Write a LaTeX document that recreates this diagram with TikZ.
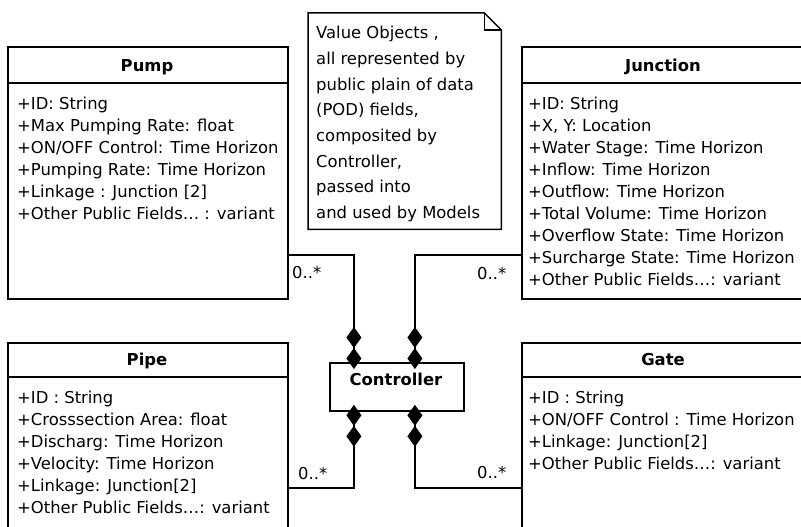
\documentclass[tikz,border=0pt]{standalone}
\usepackage{fontspec}
\setmainfont{DejaVu Sans}
\usetikzlibrary{arrows.meta,calc}
\begin{document}
\begin{tikzpicture}[x=1pt,y=-1pt,
  box/.style={draw, line width=1.8pt, inner sep=0pt, anchor=north west},
  sepline/.style={line width=1.8pt},
  ttl/.style={font=\fontsize{16.4}{20}\selectfont\bfseries, inner sep=0pt, anchor=base},
  attrs/.style={font=\fontsize{16.4}{22}\selectfont, align=left, inner sep=0pt, anchor=north west},
  notetext/.style={font=\fontsize{16.4}{25.7}\selectfont, align=left, inner sep=0pt, anchor=north west},
  mult/.style={font=\fontsize{16.4}{20}\selectfont, inner sep=0pt, anchor=base west},
  notebox/.style={line width=1.5pt},
  comp/.style={line width=1.8pt, {Diamond[length=21pt,width=15pt,sep=-7pt]Diamond[length=21pt,width=15pt]}-},
]
\useasboundingbox (0,0) rectangle (801,527);
\clip (0,0) rectangle (801,527);

% Pump
\node[box, minimum width=280pt, minimum height=252pt] (pump) at (7,46) {};
\draw[sepline] ([yshift=-37pt]pump.north west) -- ([yshift=-37pt]pump.north east);
\node[ttl] (pumpt) at (147,71.5) {Pump};
\node[attrs] (pumpa) at (17,97) {+ID: String\\+Max Pumping Rate: float\\+ON/OFF Control: Time Horizon\\+Pumping Rate: Time Horizon\\+Linkage : Junction [2]\\+Other Public Fields\dots\ : variant};

% Junction
\node[box, minimum width=284pt, minimum height=252pt] (junc) at (521,46) {};
\draw[sepline] ([yshift=-37pt]junc.north west) -- ([yshift=-37pt]junc.north east);
\node[ttl] (junct) at (663,71.5) {Junction};
\node[attrs] (junca) at (528,97) {+ID: String\\+X, Y: Location\\+Water Stage: Time Horizon\\+Inflow: Time Horizon\\+Outflow: Time Horizon\\+Total Volume: Time Horizon\\+Overflow State: Time Horizon\\+Surcharge State: Time Horizon\\+Other Public Fields\dots: variant};

% Pipe
\node[box, minimum width=280pt, minimum height=203pt] (pipe) at (7,342) {};
\draw[sepline] ([yshift=-35pt]pipe.north west) -- ([yshift=-35pt]pipe.north east);
\node[ttl] (pipet) at (147,365) {Pipe};
\node[attrs] (pipea) at (17,391) {+ID : String\\+Crosssection Area: float\\+Discharg: Time Horizon\\+Velocity: Time Horizon\\+Linkage: Junction[2]\\+Other Public Fields\dots: variant};

% Gate
\node[box, minimum width=284pt, minimum height=203pt] (gate) at (521,342) {};
\draw[sepline] ([yshift=-35pt]gate.north west) -- ([yshift=-35pt]gate.north east);
\node[ttl] (gatet) at (663,365) {Gate};
\node[attrs] (gatea) at (528,391) {+ID : String\\+ON/OFF Control : Time Horizon\\+Linkage: Junction[2]\\+Other Public Fields\dots: variant};

% Controller
\node[box, minimum width=134pt, minimum height=48pt] (ctrl) at (329,362) {};
\node[ttl] (ctrlt) at (396,385.5) {Controller};

% Note
\node[inner sep=0pt, minimum width=193pt, minimum height=216pt, anchor=north west] (note) at (308,13) {};
\draw[notebox] (note.north west) -- ([xshift=-17pt]note.north east) -- ([yshift=-17pt]note.north east) -- (note.south east) -- (note.south west) -- cycle;
\draw[notebox] ([xshift=-17pt]note.north east) |- ([yshift=-17pt]note.north east);
\node[notetext] (notet) at (316,26) {Value Objects ,\\all represented by\\public plain of data\\(POD) fields,\\composited by\\Controller,\\passed into\\and used by Models};

% Connectors
\draw[comp] ([xshift=-43pt]ctrl.north) |- ([yshift=-82pt]pump.east);
\draw[comp] ([xshift=18pt]ctrl.north) |- ([yshift=-82pt]junc.west);
\draw[comp] ([xshift=-43pt]ctrl.south) |- ([yshift=-43.5pt]pipe.east);
\draw[comp] ([xshift=18pt]ctrl.south) |- ([yshift=-43.5pt]gate.west);

% Multiplicities
\node[mult] (m1) at (292,278) {0..*};
\node[mult] (m2) at (477,279) {0..*};
\node[mult] (m3) at (298,479) {0..*};
\node[mult] (m4) at (477,478.5) {0..*};
\end{tikzpicture}
\end{document}
